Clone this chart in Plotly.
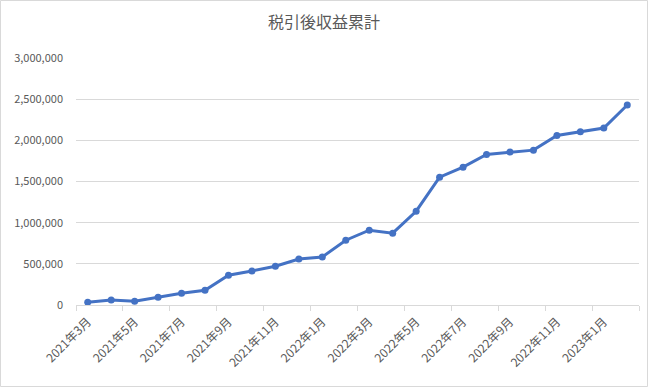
import plotly.graph_objects as go

months = [
    "2021年3月", "2021年4月", "2021年5月", "2021年6月", "2021年7月", "2021年8月",
    "2021年9月", "2021年10月", "2021年11月", "2021年12月", "2022年1月", "2022年2月",
    "2022年3月", "2022年4月", "2022年5月", "2022年6月", "2022年7月", "2022年8月",
    "2022年9月", "2022年10月", "2022年11月", "2022年12月", "2023年1月", "2023年2月",
]
cumulative_profit = [
    33000, 61000, 45000, 94000, 142000, 179000,
    361000, 413000, 470000, 559000, 584000, 787000,
    908000, 872000, 1139000, 1553000, 1674000, 1828000,
    1857000, 1881000, 2059000, 2104000, 2149000, 2429000,
]
tick_labels = months[::2]
y_ticks = [0, 500000, 1000000, 1500000, 2000000, 2500000, 3000000]

W, H = 648, 387
L, R, T, B = 76, 9, 58, 82
n = len(months)
# tick marks sit on category boundaries, every second category
boundary_ticks = [i - 0.5 for i in range(0, n + 1, 2)]

fig = go.Figure()
fig.add_trace(go.Scatter(
    x=months, y=cumulative_profit, mode="lines+markers",
    line=dict(color="#4472C4", width=3),
    marker=dict(color="#4472C4", size=7),
    hoverinfo="x+y",
))
# helper trace so the boundary-tick axis is drawn
fig.add_trace(go.Scatter(x=[], y=[], xaxis="x2", yaxis="y", showlegend=False))

font_family = "Noto Sans CJK JP, Noto Sans, sans-serif"
fig.update_layout(
    width=W, height=H,
    margin=dict(l=L, r=R, t=T, b=B, autoexpand=False),
    paper_bgcolor="white", plot_bgcolor="white",
    showlegend=False,
    font=dict(family=font_family, color="#595959", size=11),
    title=dict(text="税引後収益累計", x=0.5, xanchor="center", y=1 - 22.5 / H, yanchor="middle",
               font=dict(size=16, color="#595959", family=font_family)),
    xaxis=dict(
        type="category", tickmode="array", tickvals=tick_labels, ticktext=tick_labels,
        tickangle=-45, ticks="", ticklabelstandoff=4,
        showline=True, linecolor="#d9d9d9", linewidth=1, showgrid=False, automargin=False,
        tickfont=dict(size=12, color="#595959"), range=[-0.5, n - 0.5],
    ),
    xaxis2=dict(
        overlaying="x", anchor="y", side="bottom", range=[-0.5, n - 0.5],
        tickmode="array", tickvals=boundary_ticks, ticks="outside", ticklen=5,
        tickcolor="#d9d9d9", showticklabels=False, showgrid=False, showline=False,
        zeroline=False, automargin=False,
    ),
    yaxis=dict(
        range=[0, 3000000], tickvals=y_ticks, tickformat=",d", automargin=False,
        showgrid=True, gridcolor="#d9d9d9", gridwidth=1, zeroline=False,
        showline=False, ticks="", ticklabelstandoff=12,
        tickfont=dict(size=11, color="#595959"),
    ),
)

pw, ph = W - L - R, H - T - B
fig.add_shape(type="rect", xref="paper", yref="paper",
              x0=(-L + 0.5) / pw, x1=1 + (R - 0.5) / pw,
              y0=(-B + 0.5) / ph, y1=1 + (T - 0.5) / ph,
              line=dict(color="#d9d9d9", width=1), layer="below")

fig.write_html("out.html", config={"displayModeBar": False})

with open("out.html", encoding="utf-8") as f:
    html = f.read()
html = html.replace("<head>", "<head><style>html,body{margin:0;padding:0;}</style>", 1)
with open("out.html", "w", encoding="utf-8") as f:
    f.write(html)
